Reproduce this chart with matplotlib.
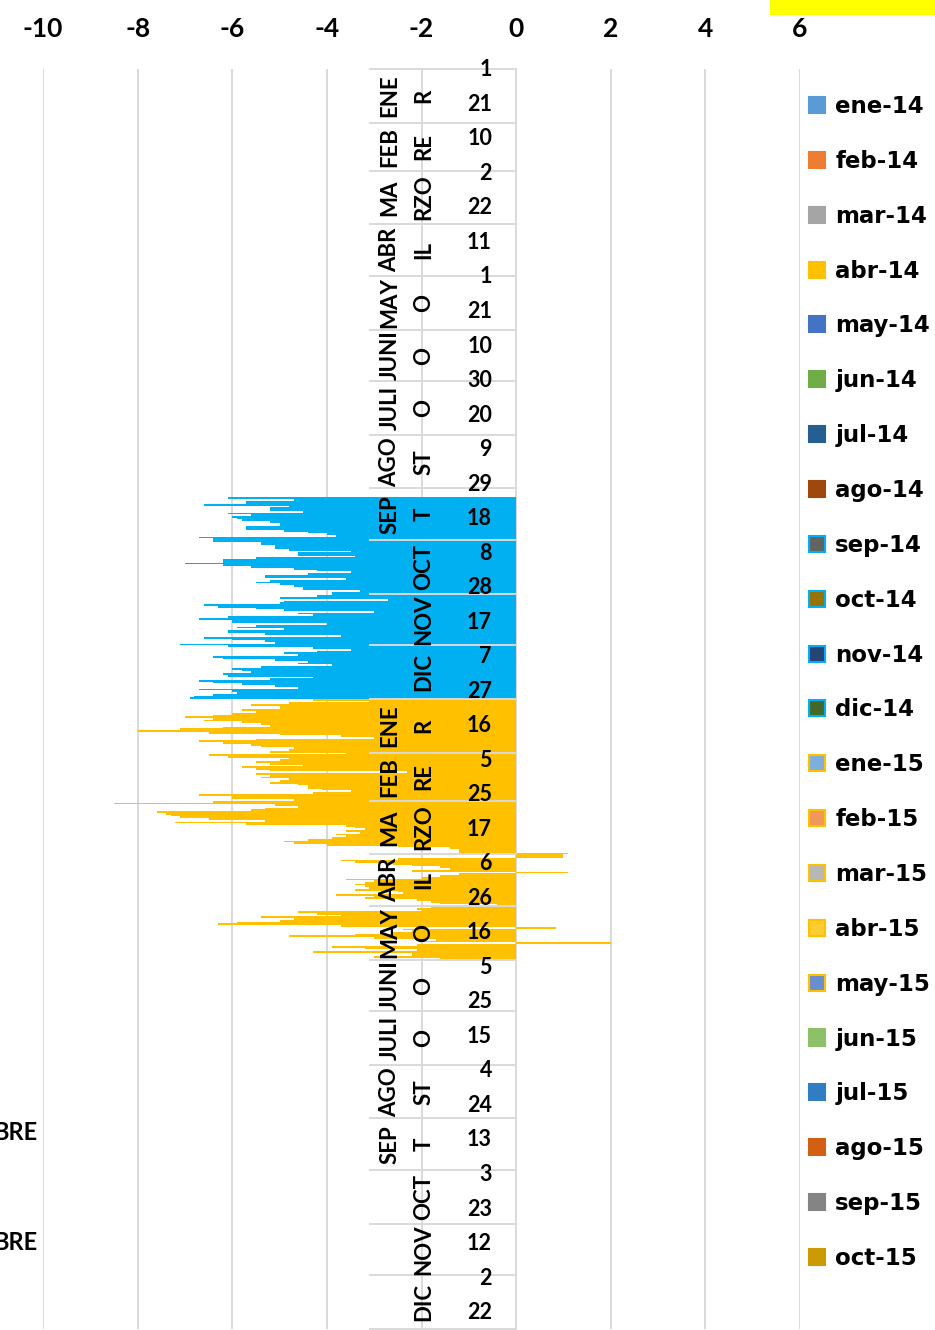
import numpy as np
import pandas as pd
import matplotlib
matplotlib.use('Agg')
import matplotlib.pyplot as plt
from matplotlib.patches import Patch, Rectangle

plt.rcParams['font.family'] = ['Lato', 'DejaVu Sans']
plt.rcParams['font.weight'] = 'bold'
plt.rcParams['axes.unicode_minus'] = False

# --- datos ---
first_day = pd.Timestamp('2014-01-01')
last_day = pd.Timestamp('2015-12-31')
data_start = '2014-09-06'
data_end = '2015-05-31'

sep14 = [-6.1, -4.7, -5.7, -5.7, -6.6, -4.8, -5.2, -5.2, -4.5, -6.1, -5.6, -6.0, -5.9,
         -5.8, -5.2, -5.0, -5.0, -5.7, -5.7, -4.9, -4.4, -4.0, -3.8, -6.7, -6.4]
oct14 = [-6.4, -5.4, -5.4, -5.1, -5.1, -4.8, -3.5, -4.6, -4.6, -3.4, -5.5, -6.2, -6.2, -7.0,
         -6.2, -5.6, -4.7, -4.2, -3.5, -4.4, -5.3, -5.3, -3.6, -5.2, -5.5, -5.0, -4.7, -4.5,
         -4.5, -3.3, -3.9]
nov14 = [-3.9, -4.2, -5.0, -2.7, -4.9, -5.0, -6.6, -6.3, -5.5, -4.9, -3.0, -4.6, -4.3, -6.1,
         -6.7, -6.0, -6.0, -4.0, -5.5, -5.9, -4.9, -6.1, -6.1, -5.3, -3.7, -6.6, -6.0, -5.3,
         -5.1, -7.1]
dic14 = [-6.1, -4.3, -3.5, -4.2, -4.9, -4.6, -6.4, -6.2, -5.1, -4.4, -4.6, -3.9, -5.4, -6.0,
         -5.8, -5.6, -6.2, -6.1, -4.3, -5.2, -6.7, -6.4, -5.8, -5.1, -4.6, -6.7, -6.0, -5.9,
         -6.4, -6.8, -6.9]
ene15 = [-4.3, -3.1, -4.8, -5.6, -5.0, -5.0, -5.8, -5.5, -6.0, -6.4, -7.0, -6.4, -6.6, -5.8,
         -5.4, -5.2, -6.2, -7.1, -8.0, -6.5, -5.0, -3.7, -3.0, -5.5, -6.7, -6.2, -5.6, -5.4,
         -4.7, -4.8, -5.2]
feb15 = [-3.6, -6.5, -6.1, -4.8, -5.0, -5.5, -5.2, -4.5, -5.8, -5.5, -5.2, -2.3, -5.5, -5.2,
         -5.4, -4.8, -5.0, -5.2, -4.6, -4.4, -4.4, -4.1, -3.5, -4.3, -6.7, -6.0, -6.0, -4.7]
mar15 = [-6.4, -8.5, -5.1, -4.6, -5.3, -5.6, -7.6, -7.4, -7.3, -7.1, -6.5, -5.3, -7.2, -5.7,
         -3.6, -3.4, -3.2, -3.6, -3.3, -3.8, -3.6, -3.9, -4.4, -4.9, -4.7, -4.0, -2.5, -1.4,
         -1.2, -1.2, 1.1]
abr15 = [1.0, 1.0, -2.5, -3.7, -3.4, -2.6, -2.2, -1.6, -1.4, -2.2, 1.1, -1.2, -1.6, -2.0,
         -3.6, -3.0, -3.2, -3.4, -3.2, -3.1, -3.4, -2.5, -2.4, -3.8, -3.0, -3.2, -2.1, -1.8,
         -1.6, -0.4]
may15 = [-1.8, -2.1, -2.0, -4.6, -4.2, -3.7, -5.4, -4.7, -5.0, -5.9, -6.3, -3.7, 0.85, -2.4,
         -2.2, -2.6, -3.4, -4.8, -3.0, -1.7, -2.0, 2.0, -2.1, -3.9, -3.2, -2.1, -4.3, -2.2,
         -2.2, -3.0, -1.6]

month_line1 = ['ENE', 'FEB', 'MA', 'ABR', 'MAY', 'JUNI', 'JULI', 'AGO', 'SEP', '', '', '']
month_line2 = ['R', 'RE', 'RZO', 'IL', 'O', 'O', 'O', 'ST', 'T', 'OCT', 'NOV', 'DIC']

legend_labels = ['ene-14', 'feb-14', 'mar-14', 'abr-14', 'may-14', 'jun-14', 'jul-14',
                 'ago-14', 'sep-14', 'oct-14', 'nov-14', 'dic-14', 'ene-15', 'feb-15',
                 'mar-15', 'abr-15', 'may-15', 'jun-15', 'jul-15', 'ago-15', 'sep-15', 'oct-15']
legend_face = ['#5B9BD5', '#ED7D31', '#A5A5A5', '#FFC000', '#4472C4', '#70AD47', '#255E91',
               '#9E480E', '#636363', '#997300', '#264478', '#43682B', '#7CAFDD', '#F1975A',
               '#B7B7B7', '#FFCD33', '#698ED0', '#8CC168', '#327DC2', '#D26012', '#848484',
               '#CC9A06']
legend_edge = legend_face[:8] + ['#00B0F0'] * 4 + ['#FFC000'] * 5 + legend_face[17:]

BLUE = '#00B0F0'
AMBER = '#FFC000'
GRID = '#D9D9D9'

values = np.array(sep14 + oct14 + nov14 + dic14 + ene15 + feb15 + mar15 + abr15 + may15)
dates = pd.date_range(data_start, data_end)
day_idx = (dates - first_day).days.values
colors = [BLUE if d.year == 2014 else AMBER for d in dates]
n_days = (last_day - first_day).days + 1

fig = plt.figure(figsize=(9.35, 13.3), dpi=100)
W, H = 935, 1330
ax = fig.add_axes([43 / W, 1 / H, 757 / W, (1329 - 69) / H])

ax.barh(day_idx + 0.5, values, height=1.0, color=colors, linewidth=0, zorder=2)

ax.set_xlim(-10, 6)
ax.set_ylim(n_days, 0)
ax.set_xticks(range(-10, 7, 2))
ax.xaxis.tick_top()
ax.tick_params(axis='x', length=0, pad=20, labelsize=19)
ax.set_yticks([])
ax.grid(axis='x', color=GRID, linewidth=1.4, zorder=0)
ax.set_axisbelow(True)
for s in ax.spines.values():
    s.set_visible(False)

# eje de categorías (fechas) en x=0
tr = ax.get_yaxis_transform()
x_lo = (370 - 43) / 757
x_hi = (516 - 43) / 757
month_starts = pd.date_range(first_day, last_day + pd.Timedelta(days=1), freq='MS')
for ms in month_starts:
    yy = (ms - first_day).days
    ax.plot([x_lo, x_hi], [yy, yy], transform=tr, color=GRID, lw=1.4, zorder=3,
            clip_on=False)

for ms in month_starts[:-1]:
    yc = (ms - first_day).days + ms.days_in_month / 2
    m = ms.month - 1
    if month_line1[m]:
        ax.text((390 - 43) / 757, yc, month_line1[m], transform=tr, rotation=90,
                ha='center', va='center', fontsize=16, zorder=4)
    ax.text((424 - 43) / 757, yc, month_line2[m], transform=tr, rotation=90,
            ha='center', va='center', fontsize=16, zorder=4)

for d in pd.date_range(first_day, last_day, freq='20D'):
    yc = (d - first_day).days + 0.5
    ax.text((492 - 43) / 757, yc, str(d.day), transform=tr, ha='right', va='center',
            fontsize=15.5, zorder=4)

# textos cortados a la izquierda, como en el original
fig.text(37 / W, 1 - 1133 / H, 'BRE', ha='right', va='center', fontsize=17)
fig.text(37 / W, 1 - 1243 / H, 'BRE', ha='right', va='center', fontsize=17)

# rectángulo amarillo arriba a la derecha
fig.patches.append(Rectangle((770 / W, 1 - 15 / H), 170 / W, 15 / H,
                             transform=fig.transFigure, facecolor='#FFFF00',
                             edgecolor='none'))

handles = [Patch(facecolor=f, edgecolor=e, linewidth=1.5)
           for f, e in zip(legend_face, legend_edge)]
fig.legend(handles, legend_labels, loc='upper left', bbox_to_anchor=(809 / W, 1 - 95 / H),
           frameon=False, prop={'family': 'DejaVu Sans', 'weight': 'bold', 'size': 16.5},
           labelspacing=1.39, handlelength=0.7, handleheight=0.7, handletextpad=0.45,
           borderaxespad=0, borderpad=0)

fig.savefig('out.png', dpi=100)
